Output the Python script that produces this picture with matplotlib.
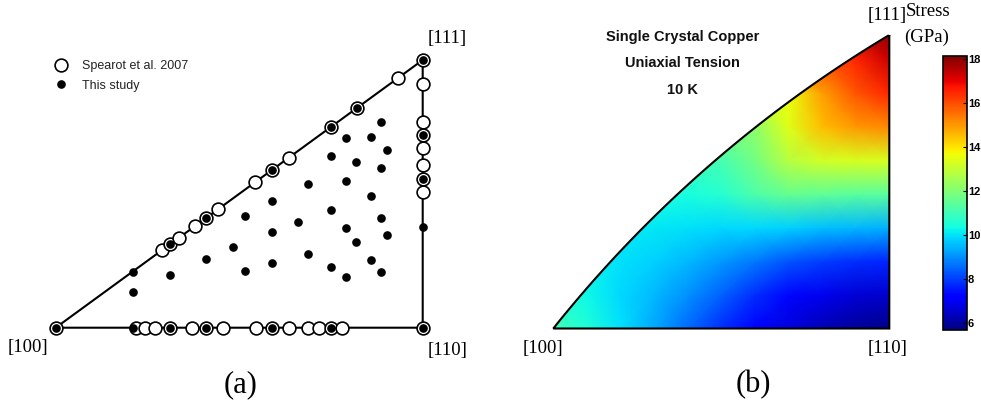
import numpy as np
import matplotlib.pyplot as plt
from matplotlib.patches import Polygon
from matplotlib.lines import Line2D

W, H = 981, 404

# ----------------------------
# Panel (a) data: [100]=(0,0), [110]=(1,0), [111]=(1, A_TOP)
# ----------------------------
A_TOP = 0.7294

spearot_x = [0.0, 0.2888, 0.3114, 0.3369, 0.3796, 0.4095, 0.4431, 0.5431,
             0.5902, 0.6357, 0.7493, 0.820, 0.9336, 1.0,
             0.218, 0.2433, 0.2706, 0.3114, 0.3706, 0.4095, 0.4559, 0.5458,
             0.5902, 0.6349, 0.6883, 0.7183, 0.7493, 0.7810, 1.0,
             1.0, 1.0, 1.0, 1.0, 1.0, 1.0, 1.0]
spearot_y = [0.0, 0.2107, 0.2271, 0.2457, 0.2769, 0.2987, 0.3232, 0.3961,
             0.4305, 0.4637, 0.5465, 0.5981, 0.6810, 0.7294,
             0, 0, 0, 0, 0, 0, 0, 0, 0, 0, 0, 0, 0, 0, 0,
             0.664, 0.5613, 0.5251, 0.4888, 0.4433, 0.4044, 0.3706]

study_x = [0.0, 0.2098, 0.3114, 0.4095, 0.5902, 0.7493, 0.820, 1.0,
           0.2114, 0.3114, 0.4095, 0.5902, 0.7493, 1.0,
           1.0, 1.0, 1.0,
           0.8856, 0.7902, 0.8600, 0.9019, 0.7493, 0.8191, 0.8856, 0.6883,
           0.7902, 0.8600, 0.5902, 0.5158, 0.7493, 0.6611, 0.8856, 0.5902,
           0.7902, 0.9019, 0.8191, 0.4839, 0.4095, 0.6883, 0.3114, 0.5902,
           0.5158, 0.7493, 0.8600, 0.8856, 0.7902, 0.2098]
study_y = [0.0, 0.1530, 0.2271, 0.2987, 0.4305, 0.5465, 0.5981, 0.7294,
           0, 0, 0, 0, 0, 0,
           0.5251, 0.4044, 0.2752,
           0.5605, 0.5161, 0.5204, 0.4850, 0.4678, 0.4515, 0.4351, 0.3924,
           0.3989, 0.3589, 0.3452, 0.3044, 0.3215, 0.2888, 0.2981, 0.2608,
           0.2717, 0.2534, 0.2343, 0.2191, 0.1864, 0.2016, 0.1444, 0.1755,
           0.1553, 0.1646, 0.1845, 0.1510, 0.1373, 0.0973]

# ----------------------------
# Panel (b) data: stress (GPa) read on a grid, [100]=(0,0), [110]=(1,0)
# ----------------------------
B_TOP = 0.8735
B_MID = 0.5155          # height of the [100]-[111] arc at u = 0.5
stress_u = [0.0, 0.1, 0.2, 0.3, 0.4, 0.5, 0.6, 0.7, 0.8, 0.9, 1.0]
stress_v = [0.0, 0.1, 0.2, 0.3, 0.4, 0.5, 0.6, 0.7, 0.8, 0.88]
stress_grid = [
    [11.0, 10.5, 10.0, 9.3, 8.5, 7.8, 7.2, 6.7, 6.3, 6.0, 5.8],
    [10.6, 10.3, 9.9, 9.5, 9.0, 8.4, 7.8, 7.3, 6.9, 6.6, 6.5],
    [10.4, 10.2, 10.0, 9.8, 9.5, 9.1, 8.7, 8.3, 8.0, 7.8, 7.7],
    [10.3, 10.2, 10.1, 10.1, 10.0, 9.9, 9.9, 9.8, 9.6, 9.5, 9.4],
    [10.4, 10.4, 10.4, 10.4, 10.4, 10.6, 11.2, 11.6, 11.5, 11.4, 11.4],
    [10.9, 10.9, 10.9, 10.9, 10.9, 11.1, 11.8, 12.8, 13.2, 13.3, 13.3],
    [12.0, 12.0, 12.0, 12.0, 12.0, 12.0, 12.2, 13.4, 14.5, 15.0, 15.2],
    [13.5, 13.5, 13.5, 13.5, 13.5, 13.5, 13.5, 13.6, 14.9, 15.9, 16.5],
    [16.0, 16.0, 16.0, 16.0, 16.0, 16.0, 16.0, 16.0, 16.0, 16.5, 17.3],
    [17.5, 17.5, 17.5, 17.5, 17.5, 17.5, 17.5, 17.5, 17.5, 17.6, 18.0],
]
cbar_min, cbar_max = 5.67, 18.15
cbar_ticks = [6, 8, 10, 12, 14, 16, 18]


# ----------------------------
# Helpers
# ----------------------------
def px_axes(fig, ox, oy, scale, xlim, ylim):
    """Axes whose data origin sits at pixel (ox, oy) with `scale` px per unit."""
    left = ox + xlim[0] * scale
    right = ox + xlim[1] * scale
    top = oy - ylim[1] * scale
    bottom = oy - ylim[0] * scale
    ax = fig.add_axes([left / W, 1 - bottom / H, (right - left) / W, (bottom - top) / H])
    ax.set_xlim(xlim)
    ax.set_ylim(ylim)
    ax.axis("off")
    return ax


def arc_points(top, mid, n=200):
    """Circle arc through (0,0), (0.5, mid) and (1, top)."""
    a = np.array([[1.0, top], [0.5, mid]])
    b = np.array([(1 + top ** 2) / 2, (0.25 + mid ** 2) / 2])
    cx, cy = np.linalg.solve(a, b)
    r = np.hypot(cx, cy)
    t0 = np.arctan2(-cy, -cx)
    t1 = np.arctan2(top - cy, 1 - cx)
    t = np.linspace(t0, t1, n)
    return cx + r * np.cos(t), cy + r * np.sin(t)


serif = "Liberation Serif"
sans = "Liberation Sans"
label_size = 13.5

fig = plt.figure(figsize=(W / 100, H / 100), dpi=100)

# ----------------------------
# Panel (a)
# ----------------------------
ax = px_axes(fig, 55.7, 327.7, 367, (-0.14, 1.2), (-0.16, 0.85))
ax.add_patch(Polygon([[0, 0], [1, 0], [1, A_TOP]], closed=True, fill=False,
                     edgecolor="black", linewidth=1.5, zorder=1))
ax.plot(spearot_x, spearot_y, "o", ms=9.2, mfc="white", mec="black", mew=1.2,
        linestyle="none", zorder=2, clip_on=False)
ax.plot(study_x, study_y, "o", ms=5.2, color="black", linestyle="none",
        zorder=3, clip_on=False)

handles = [
    Line2D([], [], marker="o", ms=9.2, mfc="white", mec="black", mew=1.2, linestyle="none"),
    Line2D([], [], marker="o", ms=5.2, color="black", linestyle="none"),
]
leg = ax.legend(handles, ["Spearot et al. 2007", "This study"], loc="upper left",
                bbox_to_anchor=(55 / W, 1 - 60 / H), bbox_transform=fig.transFigure,
                frameon=False, borderpad=0, borderaxespad=0, handlelength=1.0,
                handletextpad=1.2, labelspacing=0.62, prop={"family": sans, "size": 9})
for t in leg.get_texts():
    t.set_color("#222222")

ax.text(-0.0747, -0.0545, "[100]", ha="center", va="center", family=serif, fontsize=label_size)
ax.text(1.0676, -0.0608, "[110]", ha="center", va="center", family=serif, fontsize=label_size)
ax.text(1.0654, 0.7886, "[111]", ha="center", va="center", family=serif, fontsize=label_size)
fig.text(241 / W, 1 - 385 / H, "(a)", ha="center", va="center", family=serif, fontsize=22)

# ----------------------------
# Panel (b)
# ----------------------------
bx = px_axes(fig, 553.3, 328.5, 336, (-0.1, 1.1), (-0.1, 0.95))
arc_x, arc_y = arc_points(B_TOP, B_MID)
# [110] -> [111], arc back to [100], then along the bottom to [110]
outline = np.column_stack([np.r_[1.0, arc_x[::-1], 1.0], np.r_[B_TOP, arc_y[::-1], 0.0]])

U, V = np.meshgrid(stress_u, stress_v)
mesh = bx.pcolormesh(U, V, np.array(stress_grid), shading="gouraud", cmap="jet",
                     vmin=cbar_min, vmax=cbar_max, zorder=1)
clip = Polygon(outline, closed=True, transform=bx.transData, facecolor="none", edgecolor="none")
bx.add_patch(clip)
mesh.set_clip_path(clip)
bx.add_patch(Polygon(outline, closed=True, fill=False, edgecolor="black",
                     linewidth=1.5, zorder=3))

title_lines = ["Single Crystal Copper", "Uniaxial Tension", "10 K"]
for line, v in zip(title_lines, [0.8667, 0.789, 0.710]):
    bx.text(0.3845, v, line, ha="center", va="center", family=sans,
            fontweight="bold", fontsize=10.5, color="#111111")

bx.text(-0.0307, -0.0589, "[100]", ha="center", va="center", family=serif, fontsize=label_size)
bx.text(0.9946, -0.0589, "[110]", ha="center", va="center", family=serif, fontsize=label_size)
bx.text(0.9932, 0.933, "[111]", ha="center", va="center", family=serif, fontsize=label_size)
fig.text(753 / W, 1 - 385 / H, "(b)", ha="center", va="center", family=serif, fontsize=22)

# colour bar
cax = fig.add_axes([943.3 / W, 1 - 330 / H, 23.4 / W, 274 / H])
cbar = fig.colorbar(mesh, cax=cax, ticks=cbar_ticks)
cbar.outline.set_linewidth(1.2)
cax.tick_params(direction="in", length=3, width=0.8, pad=1, labelsize=8)
for lbl in cax.get_yticklabels():
    lbl.set_fontweight("bold")
    lbl.set_family(sans)
fig.text(928 / W, 1 - 12 / H, "Stress", ha="center", va="center", family=serif, fontsize=label_size)
fig.text(927 / W, 1 - 37 / H, "(GPa)", ha="center", va="center", family=serif, fontsize=label_size)

fig.savefig("out.png", dpi=100)
